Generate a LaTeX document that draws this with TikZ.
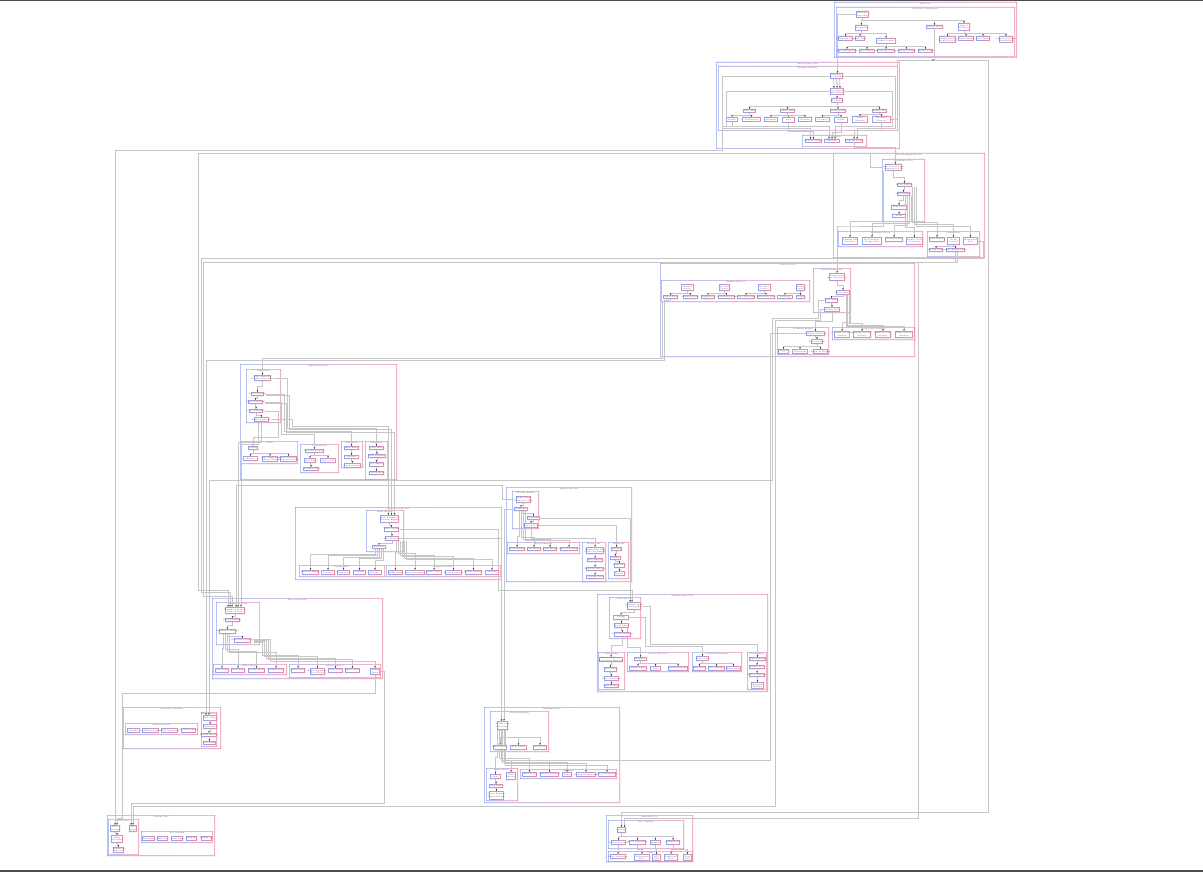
\documentclass[tikz,border=0pt]{standalone}
\usetikzlibrary{arrows.meta}
\pgfdeclarelayer{cl}\pgfdeclarelayer{ed}
\pgfsetlayers{cl,ed,main}
\definecolor{cb}{HTML}{93A4EE}
\definecolor{cp}{HTML}{EE8CAB}
\definecolor{ln}{HTML}{C6C6C6}
\newcommand\tn{\fontsize{1.9}{2.2}\selectfont}
\tikzset{
 e/.style={draw=ln,line width=0.65pt,-{Stealth[length=1.6pt,width=1.4pt,color=black]}},
 tt/.style={font=\tn,inner sep=0pt,text=black!70},
}
\newcommand\mkcl[5]{\shade[left color=cb,right color=cp,even odd rule] (#1,#2) rectangle (#3,#4) (#1+0.7,#2+0.7) rectangle (#3-0.7,#4-0.7); \node[tt] at ({(#1+#3)/2},#2+2.1) {#5};}
\newcommand\mknd[6]{\fill[white] (#2,#3) rectangle (#4,#5); \shade[left color=cb,right color=cp,even odd rule] (#2,#3) rectangle (#4,#5) (#2+0.9,#3+0.9) rectangle (#4-0.9,#5-0.9); \node[tt,align=center,minimum width={(#4-#2)*1pt},minimum height={(#5-#3)*1pt}] (#1) at ({(#2+#4)/2},{(#3+#5)/2}) {#6};}
\newcommand\mktr[3]{\draw[e] (#1.south) -- ++(0,#3) -| (#2.north);}
\begin{document}
\begin{tikzpicture}[x=1pt,y=-1pt]
\useasboundingbox (0,0) rectangle (1203,872);
\begin{pgfonlayer}{cl}
\fill[white] (0,0) rectangle (1203,872);
\fill[black!70] (0,0) rectangle (1203,1.5);
\fill[black!70] (0,869.5) rectangle (1203,872);
% C1
\mkcl{834}{2}{1017}{58}{Web Tier}
\mkcl{836}{7}{1015}{57}{Frontend Components}
% C2
\mkcl{716}{62}{900}{149}{API Gateway Tier}
\mkcl{718}{66}{898}{131}{Request Pipeline}
\mkcl{802}{135}{867}{147}{Middleware}
% C3
\mkcl{833}{153}{985}{258}{Data Management Tier}
\mkcl{882}{159}{925}{222}{Persistence Core}
\mkcl{838}{231}{923}{247}{Relational Stores}
\mkcl{927}{231}{980}{257}{Cache Layer}
% C4
\mkcl{660}{263}{915}{357}{Service Layer}
\mkcl{661}{280}{810}{302}{Domain Services}
\mkcl{813}{268}{851}{313}{Orchestration Core}
\mkcl{777}{327}{829}{355}{Workflow Engine}
\mkcl{832}{327}{915}{340}{Integration Adapters}
% C5
\mkcl{240}{364}{397}{480}{Application Layer}
\mkcl{246}{369}{281}{423}{Controllers}
\mkcl{241}{441}{298}{464}{Views}
\mkcl{300}{444}{339}{473}{View Models}
\mkcl{341}{441}{363}{468}{Validators}
\mkcl{365}{441}{388}{480}{Serializers}
% C6
\mkcl{295}{507}{502}{580}{Business Logic Tier}
\mkcl{366}{510}{404}{552}{Rules Engine}
\mkcl{299}{565}{385}{577}{Pricing Rules}
\mkcl{386}{565}{501}{577}{Compliance Rules}
% C7
\mkcl{506}{487}{632}{582}{Integration Tier}
\mkcl{512}{491}{539}{529}{Message Broker}
\mkcl{507}{542}{580}{554}{Event Channels}
\mkcl{582}{542}{606}{582}{Batch Jobs}
\mkcl{608}{542}{629}{579}{Webhooks}
% C8
\mkcl{212}{598}{383}{679}{Data Access Tier}
\mkcl{216}{602}{260}{645}{Repository Core}
\mkcl{213}{664}{287}{675}{Entity Repos}
\mkcl{289}{664}{381}{678}{Query Services}
% C9
\mkcl{597}{594}{768}{692}{Infrastructure Tier}
\mkcl{609}{597}{641}{639}{Platform Core}
\mkcl{598}{652}{625}{690}{Monitoring}
\mkcl{627}{652}{689}{672}{Service Discovery}
\mkcl{692}{652}{742}{672}{Secrets Management}
\mkcl{747}{652}{767}{690}{Deployment}
% C10
\mkcl{123}{707}{221}{749}{Security \& Identity}
\mkcl{125}{723}{198}{735}{Auth Providers}
\mkcl{201}{712}{217}{747}{Token Services}
% C11
\mkcl{107}{815}{215}{856}{Storage Tier}
\mkcl{108}{819}{139}{855}{Object Store}
\mkcl{141}{831}{213}{843}{File Systems}
% C12
\mkcl{484}{707}{620}{803}{Messaging Tier}
\mkcl{490}{711}{549}{752}{Notification Hub}
\mkcl{486}{768}{518}{801}{Push Delivery}
\mkcl{520}{769}{617}{779}{Channels}
% C13
\mkcl{606}{815}{693}{862}{Analytics Tier}
\mkcl{608}{820}{684}{849}{Data Pipeline}
\mkcl{608}{851}{693}{862}{Sinks}
\end{pgfonlayer}
% ---------- nodes C1
\mknd{a1}{856}{11}{869}{18}{Frontend\\App Shell}
\mknd{a2}{855}{25}{868}{31}{Navigation}
\mknd{a3}{926}{25}{943}{29}{Session Store}
\mknd{a4}{958}{23}{970}{31}{Shared\\UI Library}
\mknd{a5}{838}{36}{853}{41}{Dashboard View}
\mknd{a6}{855}{36}{865}{41}{Auth View}
\mknd{a7}{876}{38}{896}{44}{Admin Console}
\mknd{a8}{939}{36}{956}{43}{Design System\\Theme Provider}
\mknd{a9}{958}{36}{974}{41}{Form Controls}
\mknd{a10}{976}{36}{990}{41}{Data Tables}
\mknd{a11}{999}{36}{1013}{43}{Charts \& Graphs\\Visualization}
\mknd{a12}{838}{49}{856}{53}{User Management}
\mknd{a13}{859}{49}{875}{53}{Role Editor}
\mknd{a14}{877}{49}{895}{53}{Audit Log Viewer}
\mknd{a15}{898}{49}{915}{53}{System Settings}
\mknd{a16}{918}{49}{933}{53}{Feature Flags}
% C2
\mknd{b1}{830}{73}{843}{79}{Gateway\\Load Balancer}
\mknd{b2}{830}{88}{844}{95}{Rate Limiter\\Auth Filter}
\mknd{b3}{831}{98}{843}{103}{API Router}
\mknd{b4}{743}{109}{756}{113}{User API}
\mknd{b5}{780}{109}{795}{113}{Order API}
\mknd{b6}{830}{109}{846}{113}{Catalog API}
\mknd{b7}{872}{109}{887}{113}{Report API}
\mknd{b8}{726}{117}{738}{122}{Profile}
\mknd{b9}{742}{117}{761}{122}{Preferences}
\mknd{b10}{764}{117}{778}{122}{Checkout}
\mknd{b11}{782}{117}{795}{123}{Cart}
\mknd{b12}{798}{117}{812}{122}{Returns}
\mknd{b13}{815}{117}{830}{122}{Products}
\mknd{b14}{834}{117}{848}{123}{Search}
\mknd{b15}{852}{116}{868}{123}{Sales\\Reports}
\mknd{b16}{872}{116}{891}{123}{Inventory\\Reports}
\mknd{b17}{805}{139}{822}{143}{Request Logger}
\mknd{b18}{824}{139}{840}{143}{Validator}
\mknd{b19}{845}{139}{863}{143}{Response Cache}
% C3
\mknd{d1}{885}{164}{902}{171}{Data Access Layer\\Connection Pool}
\mknd{d2}{897}{183}{912}{187}{Query Builder}
\mknd{d3}{897}{192}{910}{196}{ORM Mapper}
\mknd{d4}{891}{205}{907}{210}{Migrations}
\mknd{d5}{892}{214}{906}{218}{Seeds}
\mknd{d6}{842}{237}{858}{245}{Primary DB\\Postgres}
\mknd{d7}{862}{237}{882}{245}{Read Replica\\Postgres RO}
\mknd{d8}{885}{237}{903}{242}{Analytics DB}
\mknd{d9}{906}{237}{923}{245}{Archive Store\\Cold Data}
\mknd{d10}{929}{237}{945}{242}{Redis Primary}
\mknd{d11}{947}{237}{960}{245}{Redis\\Sentinel}
\mknd{d12}{963}{237}{978}{245}{Memcached\\Pool}
\mknd{d13}{929}{248}{943}{252}{Session Cache}
\mknd{d14}{946}{248}{965}{252}{Query Result Cache}
% C4
\mknd{f1}{681}{284}{694}{291}{Identity\\Service}
\mknd{f2}{719}{284}{730}{291}{Account\\Service}
\mknd{f3}{758}{284}{771}{291}{Inventory\\Service}
\mknd{f4}{796}{284}{805}{291}{Billing\\Service}
\mknd{f5}{663}{295}{678}{299}{Sign-in Flow}
\mknd{f6}{683}{295}{698}{299}{Password Reset}
\mknd{f7}{701}{295}{715}{299}{Registration}
\mknd{f8}{718}{295}{735}{299}{Account Settings}
\mknd{f9}{737}{295}{755}{299}{Stock Allocation}
\mknd{f10}{757}{295}{775}{299}{Warehouse Sync}
\mknd{f11}{777}{295}{793}{299}{Invoicing}
\mknd{f12}{796}{295}{805}{299}{Ledger}
\mknd{g1}{829}{273}{845}{281}{Orchestrator\\Saga Coordinator}
\mknd{g2}{836}{290}{850}{295}{Event Router}
\mknd{g3}{825}{298}{838}{303}{Task Queue}
\mknd{g4}{824}{307}{840}{312}{Worker Pool}
\mknd{g5}{806}{331}{825}{336}{Workflow Definition}
\mknd{g6}{811}{339}{823}{344}{State Machine}
\mknd{g7}{778}{349}{789}{354}{Triggers}
\mknd{g8}{792}{349}{808}{354}{Transitions}
\mknd{g9}{813}{349}{828}{354}{Timers \& Retries}
\mknd{g10}{834}{331}{850}{338}{Payment Gateway\\Adapter}
\mknd{g11}{853}{331}{871}{338}{Shipping Provider\\Adapter}
\mknd{g12}{875}{331}{891}{338}{Email Provider\\Adapter}
\mknd{g13}{895}{331}{913}{338}{SMS Provider\\Adapter}
% C5
\mknd{h1}{254}{375}{271}{381}{Main Controller\\Request Dispatcher}
\mknd{h2}{251}{392}{264}{396}{User Controller}
\mknd{h3}{248}{400}{263}{404}{Order Controller}
\mknd{h4}{249}{409}{263}{413}{Cart Controller}
\mknd{h5}{254}{417}{269}{422}{Admin Controller}
\mknd{h6}{248}{446}{258}{450}{Layout}
\mknd{h7}{243}{456}{258}{461}{Header}
\mknd{h8}{262}{456}{278}{462}{Page Templates\\Partial Views}
\mknd{h9}{280}{456}{297}{462}{Email Templates\\Notification Views}
\mknd{h10}{305}{449}{324}{453}{Base View Model}
\mknd{h11}{304}{458}{316}{463}{User VM}
\mknd{h12}{320}{458}{336}{463}{Order VM}
\mknd{h13}{303}{467}{319}{471}{Product VM}
\mknd{h14}{344}{446}{359}{450}{Input Rules}
\mknd{h15}{344}{455}{359}{459}{Sanitizer}
\mknd{h16}{344}{463}{361}{468}{Schema Checker}
\mknd{h17}{369}{446}{384}{450}{JSON Writer}
\mknd{h18}{368}{454}{386}{458}{XML Serializer}
\mknd{h19}{369}{462}{384}{467}{CSV Export}
\mknd{h20}{369}{471}{384}{475}{PDF Render}
% C6
\mknd{i1}{380}{515}{399}{523}{Rule Evaluator\\Decision Engine}
\mknd{i2}{384}{527}{399}{532}{Policy Loader}
\mknd{i3}{385}{536}{399}{541}{Fact Resolver}
\mknd{i4}{372}{545}{386}{549}{Executor}
\mknd{i5}{302}{570}{319}{575}{Discount Engine}
\mknd{i6}{321}{570}{335}{575}{Tax Calc}
\mknd{i7}{337}{570}{350}{575}{Promotions}
\mknd{i8}{353}{570}{366}{575}{Coupons}
\mknd{i9}{368}{570}{382}{575}{Bundles}
\mknd{i10}{388}{570}{403}{575}{GDPR Check}
\mknd{i11}{405}{570}{425}{575}{Data Retention}
\mknd{i12}{426}{570}{442}{575}{KYC Verify}
\mknd{i13}{445}{570}{462}{575}{Fraud Detection}
\mknd{i14}{465}{570}{482}{575}{Export Controls}
\mknd{i15}{485}{570}{499}{575}{Auditing}
% C7
\mknd{j1}{516}{496}{531}{503}{Broker Client\\Connection Mgr}
\mknd{j2}{514}{507}{528}{511}{Publisher}
\mknd{j3}{527}{516}{540}{520}{Subscriber}
\mknd{j4}{524}{523}{538}{528}{Dead Letter}
\mknd{j5}{509}{547}{525}{551}{Order Events}
\mknd{j6}{527}{547}{541}{551}{User Events}
\mknd{j7}{543}{547}{557}{551}{Stock Events}
\mknd{j8}{560}{547}{578}{551}{Audit Trail Events}
\mknd{j9}{586}{547}{604}{554}{Nightly Scheduler\\Cron Jobs Runner}
\mknd{j10}{587}{558}{603}{562}{ETL Export}
\mknd{j11}{586}{567}{604}{571}{Report Generator}
\mknd{j12}{586}{575}{604}{579}{Cleanup Task}
\mknd{j13}{611}{547}{622}{551}{Inbound}
\mknd{j14}{610}{556}{621}{560}{Verifier}
\mknd{j15}{614}{563}{625}{568}{Dispatcher}
\mknd{j16}{614}{571}{625}{576}{Retrier}
% C8
\mknd{k1}{225}{607}{245}{614}{Repository Factory\\Unit of Work}
\mknd{k2}{225}{618}{240}{622}{Base Repository}
\mknd{k3}{219}{629}{236}{634}{Transaction Manager}
\mknd{k4}{234}{638}{251}{643}{Connection Manager}
\mknd{k5}{215}{668}{229}{673}{User Repo}
\mknd{k6}{231}{668}{245}{673}{Order Repo}
\mknd{k7}{248}{668}{265}{673}{Product Repo}
\mknd{k8}{268}{668}{284}{673}{Payment Repo}
\mknd{k9}{291}{668}{305}{673}{Search Query}
\mknd{k10}{310}{668}{325}{675}{Reporting Query\\Read Model}
\mknd{k11}{328}{668}{343}{673}{Stats Query}
\mknd{k12}{345}{668}{360}{673}{Export Query}
\mknd{k13}{370}{668}{380}{675}{Lookup\\Query}
% C9
\mknd{l1}{627}{602}{641}{610}{Platform Agent\\Bootstrapper}
\mknd{l2}{613}{615}{629}{620}{Config}
\mknd{l3}{614}{623}{629}{628}{Health Check}
\mknd{l4}{614}{632}{631}{637}{Lifecycle Manager}
\mknd{l5}{599}{657}{623}{662}{Metrics Collector\\Prometheus Exporter}
\mknd{l6}{604}{667}{617}{672}{Log Shipper}
\mknd{l7}{604}{676}{619}{681}{Trace Collector}
\mknd{l8}{604}{684}{619}{688}{Alert Manager}
\mknd{l9}{634}{657}{647}{661}{Registry}
\mknd{l10}{629}{666}{647}{671}{Consul Agent}
\mknd{l11}{650}{666}{661}{671}{DNS}
\mknd{l12}{668}{666}{688}{671}{Health Endpoints}
\mknd{l13}{696}{656}{709}{661}{Vault Client}
\mknd{l14}{693}{666}{706}{671}{Key Store}
\mknd{l15}{708}{666}{725}{671}{Cert Manager}
\mknd{l16}{726}{666}{741}{671}{Token Issuer}
\mknd{l17}{749}{657}{766}{661}{Build Pipeline}
\mknd{l18}{749}{665}{765}{669}{Artifact Store}
\mknd{l19}{749}{673}{765}{677}{Release Manager}
\mknd{l20}{751}{682}{764}{689}{Rollback\\Handler}
% C10
\mknd{m1}{127}{728}{140}{733}{OAuth2}
\mknd{m2}{142}{728}{159}{733}{SAML Provider}
\mknd{m3}{161}{728}{178}{733}{LDAP Connector}
\mknd{m4}{181}{728}{196}{733}{OpenID Connect}
\mknd{m5}{203}{715}{217}{721}{JWT Issuer}
\mknd{m6}{203}{724}{217}{729}{Token Store}
\mknd{m7}{201}{733}{217}{737}{Refresh Handler}
\mknd{m8}{203}{741}{216}{745}{Revocation}
% C11
\mknd{n1}{110}{825}{120}{832}{Blob\\Storage}
\mknd{n2}{129}{825}{137}{832}{CDN\\Origin}
\mknd{n3}{111}{835}{123}{843}{Media\\Processor}
\mknd{n4}{113}{847}{124}{853}{Thumbnail\\Generator}
\mknd{n5}{142}{836}{155}{841}{NFS Share}
\mknd{n6}{157}{836}{168}{841}{EBS Vol}
\mknd{n7}{171}{836}{183}{841}{Local Disk}
\mknd{n8}{186}{836}{197}{841}{Tmp FS}
\mknd{n9}{201}{836}{212}{841}{Backup Vol}
% C12
\mknd{o1}{497}{721}{508}{730}{Notification\\Dispatcher}
\mknd{o2}{493}{745}{507}{750}{Email Queue}
\mknd{o3}{510}{745}{527}{750}{SMS Queue}
\mknd{o4}{533}{745}{547}{750}{Push Queue}
\mknd{o5}{490}{774}{501}{779}{APNS}
\mknd{o6}{506}{772}{516}{780}{FCM\\Gateway}
\mknd{o7}{489}{784}{503}{788}{Web Push}
\mknd{o8}{489}{791}{504}{800}{Device Registry\\Token Cleanup}
\mknd{o9}{522}{772}{537}{777}{SMTP Relay}
\mknd{o10}{540}{772}{559}{777}{Template Renderer}
\mknd{o11}{562}{772}{572}{777}{Twilio}
\mknd{o12}{576}{772}{596}{777}{In-App Notifications}
\mknd{o13}{598}{772}{616}{777}{Slack Integration}
% C13
\mknd{p1}{617}{827}{626}{833}{Ingestor}
\mknd{p2}{611}{840}{626}{845}{Stream Processor}
\mknd{p3}{629}{840}{646}{845}{Batch Aggregator}
\mknd{p4}{650}{840}{661}{845}{Enricher}
\mknd{p5}{666}{840}{680}{845}{Deduplicator}
\mknd{p6}{610}{854}{626}{859}{Event Warehouse}
\mknd{p7}{634}{854}{650}{861}{Clickstream\\Store}
\mknd{p8}{652}{854}{661}{861}{KPI\\Cube}
\mknd{p9}{664}{854}{678}{861}{Dashboard\\Feed}
\mknd{p10}{683}{854}{692}{861}{Data\\Lake}
% ---------- edges
\begin{pgfonlayer}{ed}
% C1
\mktr{a1}{a2}{2.5}\mktr{a1}{a3}{2.5}\mktr{a1}{a4}{2.5}
\mktr{a2}{a5}{2.5}\mktr{a2}{a6}{2.5}\mktr{a2}{a7}{2.5}
\foreach \t in {a12,a13,a14,a15,a16}{\mktr{a7}{\t}{2.5}}
\foreach \t in {a8,a9,a10,a11}{\mktr{a4}{\t}{2.5}}
\draw[e] (a1.west) -| ([xshift=1pt]b1.north);
\draw[e] (a3.south) |- (988,60) |- (621.5,812) -- (p1.north);
% C2
\mktr{b1}{b2}{4.5}
\draw[e] ([xshift=-3pt]b1.south) -- ([xshift=-3pt]b2.north);
\draw[e] ([xshift=3pt]b1.south) -- ([xshift=3pt]b2.north);
\mktr{b2}{b3}{1.5}
\foreach \t in {b4,b5,b6,b7}{\mktr{b3}{\t}{3}}
\mktr{b4}{b8}{2}\mktr{b4}{b9}{2}\mktr{b5}{b10}{2}\mktr{b5}{b11}{2}\mktr{b5}{b12}{2}
\mktr{b6}{b13}{2}\mktr{b6}{b14}{2}\mktr{b7}{b15}{1.5}\mktr{b7}{b16}{1.5}
\draw[e] (b11.south) -- ++(0,8) -| (b17.north);
\draw[e] (b14.south) -- ++(0,9) -| (b18.north);
\draw[e] (b16.south) -- ++(0,7) -| (b19.north);
\draw[e] (b1.west) -| (722,128) -| ([xshift=-3pt]b17.north);
\draw[e] (b1.east) -| (895,128) -| ([xshift=3pt]b19.north);
\draw[e] (b2.west) -| (726,126) -| ([xshift=-3pt]b18.north);
\draw[e] (b2.east) -| (892,126) -| ([xshift=3pt]b18.north);
\draw[e] (b19.south) -- ++(0,4) -| ([xshift=2pt]d1.north);
\draw[e] (b8.south) -- ++(0,4) -| (722,150) -| (n1.north);
\draw[e] (b16.east) -| (897,60) -- (934,60);
% C3
\mktr{d1}{d2}{6}\mktr{d2}{d3}{2.5}\mktr{d3}{d4}{4.5}\mktr{d4}{d5}{2}
\foreach \t/\k in {d6/0,d7/1,d8/2,d9/3}{\draw[e] ([xshift={-\k*2pt}]d3.south east) -- ++(0,{25+2*\k}) -| (\t.north);}
\foreach \t/\k in {d10/0,d11/1,d12/2}{\draw[e] ([xshift={\k*2pt}]d2.south east) -- ++(0,{35+2*\k}) -| (\t.north);}
\mktr{d11}{d13}{1.5}\mktr{d11}{d14}{1.5}
\draw[e] ([xshift=1pt]d1.south west) |- (838,226) -| (g1.north);
\draw[e] (d1.west) -| (870,153) -| (198,590) -| ([xshift=-7pt]k1.north);
\draw[e] (d12.east) -| (983,258) -| (201,592) -| ([xshift=-5pt]k1.north);
\draw[e] (d14.south) |- (203,262) -- (203,596) -| ([xshift=-3pt]k1.north);
\draw[e] ([xshift=2pt]d14.south) |- (918,262) -- (918,818) -| ([xshift=3pt]p1.north);
% C4
\mktr{f1}{f5}{2}\mktr{f1}{f6}{2}\mktr{f2}{f7}{2}\mktr{f2}{f8}{2}
\mktr{f3}{f9}{2}\mktr{f3}{f10}{2}\mktr{f4}{f11}{2}\mktr{f4}{f12}{2}
\mktr{g1}{g2}{4.5}\mktr{g2}{g3}{1.5}\mktr{g3}{g4}{2}\mktr{g4}{g5}{9}
\mktr{g5}{g6}{1.5}\foreach \t in {g7,g8,g9}{\mktr{g6}{\t}{2.5}}
\foreach \t/\k in {g10/0,g11/1,g12/2,g13/3}{\draw[e] ([xshift={-\k*1.5pt}]g2.south east) -- ++(0,{27+1.5*\k}) -| (\t.north);}
\draw[e] (f5.south) -- ++(0,2) -| (662.5,358) -| (h1.north);
\draw[e] ([xshift=-2pt]f5.south) -- ++(0,1) -| (664,360) -| ([xshift=-4pt]m5.north);
\draw[e] (g3.west) -| (818,318) -- (772,318) -- (772,480) -- (209,480) -- ([xshift=-1pt]m5.north);
\draw[e] (g4.west) -| (820,320) -- (775,320) -- (775,806) -| (n2.north);
\draw[e] (g5.west) -| (770,760) -| (o6.north);
% C5
\mktr{h1}{h2}{5}\mktr{h2}{h3}{2}\mktr{h3}{h4}{2.5}\mktr{h4}{h5}{2}
\mktr{h6}{h7}{3}\mktr{h6}{h8}{3}\mktr{h6}{h9}{3}
\mktr{h10}{h11}{2.5}\mktr{h10}{h12}{2.5}\mktr{h11}{h13}{2}
\mktr{h14}{h15}{2.5}\mktr{h15}{h16}{2}
\mktr{h17}{h18}{2}\mktr{h18}{h19}{2}\mktr{h19}{h20}{2}
\draw[e] (h1.east) -| (287,428) -| (h17.north);
\draw[e] (h2.east) -| (284,431) -| (h14.north);
\draw[e] (h3.east) -| (281,434) -| (h10.north);
\draw[e] (h4.east) -| (278,437) -| (h6.north);
\draw[e] (h5.east) -| (292,426) -| ([xshift=-1pt]i1.north);
\draw[e] ([yshift=-1pt]h2.east) -| (289,429) -| ([xshift=2pt]i1.north);
\draw[e] ([yshift=-1pt]h3.east) -| (286,432) -| ([xshift=5pt]i1.north);
\draw[e] (h5.south) -- ++(0,20) -| ([xshift=3pt]k1.north);
\draw[e] ([xshift=-3pt]h5.south) -- ++(0,22) -| ([xshift=6pt]k1.north);
% C6
\mktr{i1}{i2}{2}\mktr{i2}{i3}{2}\mktr{i3}{i4}{2}
\foreach \t/\k in {i5/0,i6/1,i7/2,i8/3,i9/4}{\draw[e] ([xshift={(\k-2)*2pt}]i4.south) -- ++(0,{5+1.5*\k}) -| (\t.north);}
\foreach \t/\k in {i10/0,i11/1,i12/2,i13/3,i14/4,i15/5}{\draw[e] ([xshift={(\k-2)*2pt}]i3.south east) -- ++(0,{11+1.5*\k}) -| (\t.north);}
\draw[e] (i3.east) -| ([xshift=-1pt]o1.north);
\draw[e] (i2.east) -| (498,590) -| ([xshift=-2pt]l1.north);
% C7
\mktr{j1}{j2}{2}\mktr{j2}{j3}{2.5}\mktr{j3}{j4}{1.5}
\foreach \t/\k in {j5/0,j6/1,j7/2,j8/3}{\draw[e] ([xshift={(\k-1)*2pt}]j2.south) -- ++(0,{25+1.5*\k}) -| (\t.north);}
\mktr{j9}{j10}{2}\mktr{j10}{j11}{2.5}\mktr{j11}{j12}{2}
\mktr{j13}{j14}{2.5}\mktr{j14}{j15}{1.5}\mktr{j15}{j16}{1.5}
\draw[e] (j4.south) -- ++(0,10) -| (j9.north);
\draw[e] (j4.east) -| (j13.north);
\draw[e] (j1.west) -| (502,485) -| ([xshift=1pt]k1.north);
\draw[e] (j2.west) -| ([xshift=1.5pt]o1.north);
\draw[e] (j3.east) -| ([xshift=-4pt]l1.north);
% C8
\mktr{k1}{k2}{2}\mktr{k2}{k3}{3.5}\mktr{k3}{k4}{2}
\foreach \t/\k in {k5/0,k6/1,k7/2,k8/3}{\draw[e] ([xshift={(\k-2)*2pt}]k3.south) -- ++(0,{14+1.5*\k}) -| (\t.north);}
\foreach \t/\k in {k9/0,k10/1,k11/2,k12/3,k13/4}{\draw[e] ([yshift={(\k-2)*0.8pt}]k4.east) -| ({262+\k*2},{655+1.5*\k}) -| (\t.north);}
\draw[e] (k13.south) |- (122,693) -- (122,818) -| ([xshift=2pt]n1.north);
\draw[e] (k13.east) -| (384,803) -| ([xshift=-2pt]n2.north);
% C9
\mktr{l1}{l2}{2.5}\mktr{l2}{l3}{1.5}\mktr{l3}{l4}{2}
\mktr{l5}{l6}{2.5}\mktr{l6}{l7}{2}\mktr{l7}{l8}{1.5}
\foreach \t in {l10,l11,l12}{\mktr{l9}{\t}{2.5}}
\foreach \t in {l14,l15,l16}{\mktr{l13}{\t}{2.5}}
\mktr{l17}{l18}{2}\mktr{l18}{l19}{2}\mktr{l19}{l20}{2.5}
\draw[e] (l4.south) -- ++(0,8) -| (l5.north);
\draw[e] ([xshift=-2pt]l3.south east) -- ++(0,19) -| (l9.north);
\draw[e] (l2.east) -| (645,646) -| (l13.north);
\draw[e] (l1.east) -| (650,644) -| (l17.north);
% C10
\mktr{m5}{m6}{1.5}\mktr{m6}{m7}{2}\mktr{m7}{m8}{2}
% C11
\mktr{n1}{n3}{1.5}\mktr{n3}{n4}{2}
% C12
\foreach \t in {o2,o3,o4}{\mktr{o1}{\t}{7}}
\foreach \t/\k in {o5/0,o9/1,o10/2,o11/3,o12/4,o13/5}{\draw[e] ([xshift={(\k-3)*1.6pt}]o1.south) -- ++(0,{27+1.6*\k}) -| (\t.north);}
\mktr{o5}{o7}{2.5}\mktr{o7}{o8}{1.5}
% C13
\foreach \t in {p2,p3,p4,p5}{\mktr{p1}{\t}{3.5}}
\mktr{p2}{p6}{4.5}\mktr{p3}{p7}{4.5}\mktr{p4}{p8}{4.5}\mktr{p5}{p9}{4.5}\mktr{p5}{p10}{4.5}
\end{pgfonlayer}
\end{tikzpicture}
\end{document}
